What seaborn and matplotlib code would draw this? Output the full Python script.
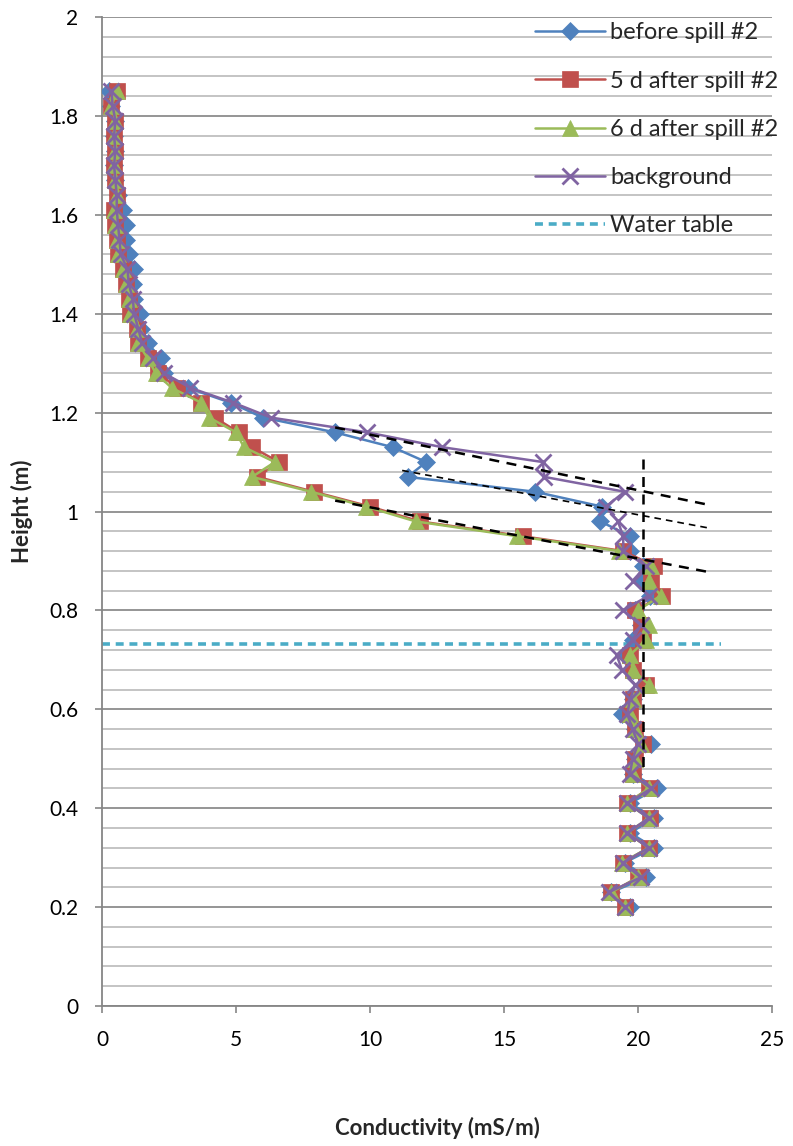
import numpy as np
import pandas as pd
import matplotlib
matplotlib.use("Agg")
import matplotlib.pyplot as plt
import seaborn as sns
from matplotlib.ticker import MultipleLocator

# ---------------- data ----------------
heights = [1.85, 1.82, 1.79, 1.76, 1.73, 1.70, 1.67, 1.64, 1.61, 1.58, 1.55, 1.52,
           1.49, 1.46, 1.43, 1.40, 1.37, 1.34, 1.31, 1.28, 1.25, 1.22, 1.19, 1.16,
           1.13, 1.10, 1.07, 1.04, 1.01, 0.98, 0.95, 0.92, 0.89, 0.86, 0.83, 0.80,
           0.77, 0.74, 0.71, 0.68, 0.65, 0.62, 0.59, 0.56, 0.53, 0.50, 0.47, 0.44,
           0.41, 0.38, 0.35, 0.32, 0.29, 0.26, 0.23, 0.20]

before_spill = [0.25, 0.35, 0.5, 0.45, 0.5, 0.45, 0.5, 0.6, 0.8, 0.9, 0.9, 1.0,
                1.2, 1.15, 1.2, 1.4, 1.45, 1.7, 2.2, 2.3, 3.2, 4.8, 6.0, 8.7,
                10.85, 12.1, 11.4, 16.15, 18.65, 18.6, 19.7, 19.7, 20.2, 20.1, 20.45, 19.9,
                20.1, 19.8, 19.6, 19.8, 20.2, 19.8, 19.4, 19.9, 20.5, 19.9, 19.8, 20.7,
                19.7, 20.6, 19.7, 20.6, 19.5, 20.3, 19.0, 19.7]

after_5d = [0.55, 0.35, 0.5, 0.45, 0.5, 0.45, 0.5, 0.55, 0.45, 0.5, 0.55, 0.6,
            0.8, 0.9, 1.0, 1.05, 1.3, 1.35, 1.7, 2.1, 2.8, 3.7, 4.2, 5.1,
            5.6, 6.6, 5.8, 7.9, 10.0, 11.85, 15.7, 19.45, 20.6, 20.5, 20.9, 19.9,
            20.1, 20.2, 19.7, 19.8, 20.3, 19.8, 19.7, 19.9, 20.2, 19.9, 19.8, 20.4,
            19.6, 20.45, 19.6, 20.4, 19.45, 20.0, 19.0, 19.5]

after_6d = [0.55, 0.35, 0.5, 0.45, 0.5, 0.45, 0.5, 0.55, 0.45, 0.5, 0.55, 0.6,
            0.8, 0.9, 1.0, 1.05, 1.3, 1.35, 1.7, 2.0, 2.6, 3.7, 4.0, 5.0,
            5.3, 6.45, 5.6, 7.8, 9.85, 11.7, 15.5, 19.3, 20.5, 20.4, 20.85, 20.0,
            20.4, 20.3, 19.7, 19.8, 20.4, 19.8, 19.7, 19.9, 20.1, 19.9, 19.8, 20.4,
            19.6, 20.4, 19.6, 20.4, 19.4, 20.0, 19.0, 19.5]

background = [0.35, 0.4, 0.5, 0.45, 0.5, 0.45, 0.5, 0.55, 0.55, 0.6, 0.65, 0.7,
              0.95, 1.0, 1.15, 1.2, 1.35, 1.5, 1.9, 2.3, 3.3, 4.9, 6.3, 9.9,
              12.7, 16.45, 16.5, 19.5, 18.8, 19.25, 19.45, 19.45, 20.3, 19.8, 20.4, 19.45,
              20.1, 19.8, 19.2, 19.4, 19.9, 19.7, 19.6, 19.8, 20.0, 19.8, 19.7, 20.5,
              19.6, 20.4, 19.6, 20.4, 19.45, 20.1, 18.9, 19.5]

water_table_x = [0, 23.1]
water_table_y = [0.733, 0.733]

# dashed trend lines (x pairs, y pairs)
trend1_x = [8.7, 22.5]
trend1_y = [1.17, 1.015]
trend2_x = [11.2, 22.6]
trend2_y = [1.083, 0.967]
trend3_x = [8.7, 22.6]
trend3_y = [1.022, 0.878]
vert_x = [20.2, 20.2]
vert_y = [1.107, 0.47]

series_names = ["before spill #2", "5 d after spill #2", "6 d after spill #2", "background"]
x_ticks = [0, 5, 10, 15, 20, 25]
y_ticks = [0, 0.2, 0.4, 0.6, 0.8, 1.0, 1.2, 1.4, 1.6, 1.8, 2.0]
y_tick_labels = ["0", "0.2", "0.4", "0.6", "0.8", "1", "1.2", "1.4", "1.6", "1.8", "2"]

# ---------------- style ----------------
sns.set_theme(style="white")
plt.rcParams['font.family'] = ['Lato', 'DejaVu Sans']

fig = plt.figure(figsize=(7.93, 11.46), dpi=100)
ax = fig.add_axes([102 / 793, 1 - 1006 / 1146, 670 / 793, 989 / 1146])

colors = ["#4F81BD", "#C0504D", "#9BBB59", "#8064A2"]
markers = ["D", "s", "^", "x"]
msizes = [9, 11, 12, 11]
vals = [before_spill, after_5d, after_6d, background]

for name, v, c, m, ms in zip(series_names, vals, colors, markers, msizes):
    df = pd.DataFrame({"cond": v, "h": heights})
    sns.lineplot(data=df, x="cond", y="h", sort=False, estimator=None, ax=ax,
                 color=c, lw=1.8, marker=m, markersize=ms,
                 markeredgecolor=c, markeredgewidth=(2 if m == "x" else 0.5),
                 label=name, zorder=3)

sns.lineplot(x=water_table_x, y=water_table_y, ax=ax, color="#4BACC6", lw=2.6,
             linestyle=(0, (2.2, 1.6)), label="Water table", zorder=2)

for tx, ty, lw in [(trend1_x, trend1_y, 1.8), (trend2_x, trend2_y, 1.2),
                   (trend3_x, trend3_y, 1.8), (vert_x, vert_y, 1.8)]:
    ax.plot(tx, ty, color="black", lw=lw, linestyle=(0, (4, 3)), zorder=4)

ax.set_xlim(0, 25)
ax.set_ylim(0, 2)
ax.set_xticks(x_ticks)
ax.set_yticks(y_ticks)
ax.set_yticklabels(y_tick_labels)
ax.yaxis.set_minor_locator(MultipleLocator(0.04))

ax.grid(axis="y", which="major", color="#8c8c8c", lw=1.3, zorder=0)
ax.grid(axis="y", which="minor", color="#bfbfbf", lw=1.3, zorder=0)
ax.grid(axis="x", which="both", visible=False)
ax.set_axisbelow(True)

for s in ["top", "right"]:
    ax.spines[s].set_visible(False)
for s in ["left", "bottom"]:
    ax.spines[s].set_color("#868686")
    ax.spines[s].set_linewidth(1.3)

ax.tick_params(axis="both", which="major", labelsize=15, colors="#000000",
               length=5, width=1.2, direction="out", left=True, bottom=True)
ax.tick_params(axis="both", which="major", color="#868686")
ax.tick_params(axis="y", which="minor", length=0)
ax.tick_params(axis="y", pad=12)
ax.tick_params(axis="x", pad=12)

ax.set_xlabel("Conductivity (mS/m)", fontsize=16, fontweight="bold")
ax.set_ylabel("Height (m)", fontsize=16, fontweight="bold")
ax.xaxis.set_label_coords(0.5, -0.112)
ax.yaxis.set_label_coords(-0.103, 0.5)

leg = ax.legend(loc="upper left", bbox_to_anchor=(0.632, 1.004), frameon=False,
                fontsize=17, handlelength=2.95, handletextpad=0.25, labelspacing=1.15,
                numpoints=1, borderaxespad=0)

fig.savefig("out.png", dpi=100)
